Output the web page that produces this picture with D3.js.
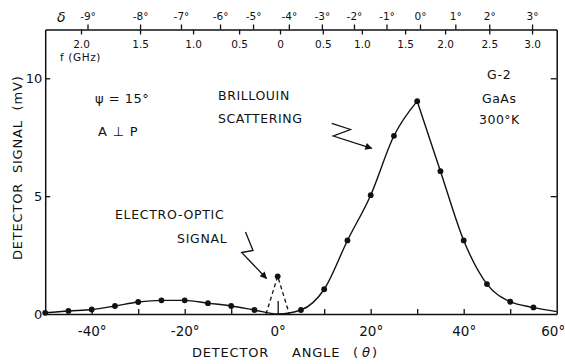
<!DOCTYPE html>
<html>
<head>
<meta charset="utf-8">
<script src="https://cdn.jsdelivr.net/npm/d3@7/dist/d3.min.js"></script>
<style>
  html, body { margin: 0; padding: 0; background: #fff; }
  svg { display: block; }
  text { font-family: "DejaVu Sans", sans-serif; fill: #111; }
</style>
</head>
<body>
<svg id="chart" width="565" height="364"></svg>
<script>
// Detector signal vs detector angle (GaAs, 300 K)
const angleDeg  = [-50, -45, -40, -35, -30, -25, -20, -15, -10, -5, 0, 5, 10, 15, 20, 25, 30, 35, 40, 45, 50, 55, 60];
const signalMV  = [0.05, 0.13, 0.19, 0.34, 0.51, 0.58, 0.58, 0.46, 0.34, 0.17, 0.0, 0.17, 1.05, 3.12, 5.04, 7.56, 9.03, 6.06, 3.12, 1.27, 0.52, 0.28, 0.10];
// angles on the smooth curve that carry no measured point
const unmeasuredDeg = [0, 60];
// the Brillouin peak is drawn as a cusp at this angle
const peakDeg = 30;

// Electro-optic signal (dashed spike)
const eoAngleDeg = [-2.5, 0, 2.5];
const eoSignalMV = [0, 1.6, 0];

// Axis ticks
const xTickDeg    = [-40, -30, -20, -10, 0, 10, 20, 30, 40, 50];
const xLabelDeg   = [-40, -20, 0, 20, 40, 60];
const yTickMV     = [0, 5, 10];
// top scales: phonon angle delta and frequency f, placed at detector angles
const deltaLabels = ["-9°", "-8°", "-7°", "-6°", "-5°", "-4°", "-3°", "-2°", "-1°", "0°", "1°", "2°", "3°"];
const deltaAtDeg  = [-40.9, -29.6, -20.8, -12.4, -5.3, 2.4, 9.5, 16.4, 23.4, 30.6, 38.2, 45.5, 54.7];
const freqLabels  = ["2.0", "1.5", "1.0", "0.5", "0", "0.5", "1.0", "1.5", "2.0", "2.5", "3.0"];
const freqAtDeg   = [-42.3, -29.6, -18.2, -8.3, 0.5, 9.7, 18.1, 27.4, 36.0, 45.5, 54.7];

const svg = d3.select("#chart");
const L = 45.2, R = 556.7, T = 29.5, B = 314;

const x = d3.scaleLinear().domain([-50, 60]).range([L, R]);
const y = d3.scaleLinear().domain([0, 12.07]).range([B, T]);

const ink = "#111";

function styleAxis(g, fontSize) {
  g.select(".domain").attr("stroke", ink).attr("stroke-width", 1.5);
  g.selectAll(".tick line").attr("stroke", ink).attr("stroke-width", 1.3);
  g.selectAll(".tick text").attr("fill", ink)
    .style("font-family", "'DejaVu Sans', sans-serif")
    .style("font-size", fontSize + "px");
}

// bottom axis: inward ticks every 10 degrees
svg.append("g").attr("transform", `translate(0,${B})`)
  .call(d3.axisBottom(x).tickValues(xTickDeg).tickSizeInner(-5).tickSizeOuter(0).tickFormat(""))
  .call(g => styleAxis(g, 13))
  .call(g => g.selectAll(".tick line").filter(d => d === 0).attr("y2", -13));

// bottom labels
svg.append("g").attr("transform", `translate(0,${B})`)
  .call(d3.axisBottom(x).tickValues(xLabelDeg).tickSize(0).tickPadding(12).tickFormat(d => d + "°"))
  .call(g => styleAxis(g, 13.5))
  .call(g => g.select(".domain").remove())
  // keep the last label inside the page
  .call(g => g.selectAll(".tick text").filter(d => d === 60).attr("text-anchor", "end").attr("x", 8));

// left axis
svg.append("g").attr("transform", `translate(${L},0)`)
  .call(d3.axisLeft(y).tickValues(yTickMV).tickSizeInner(-5).tickSizeOuter(0).tickPadding(3).tickFormat(d3.format("d")))
  .call(g => styleAxis(g, 13))
  .call(g => g.selectAll(".tick line").filter(d => d === 0).remove());

// right axis
svg.append("g").attr("transform", `translate(${R},0)`)
  .call(d3.axisRight(y).tickValues([5, 10]).tickSizeInner(-6).tickSizeOuter(0).tickFormat(""))
  .call(g => styleAxis(g, 13));

// top axis: delta ticks above
svg.append("g").attr("transform", `translate(0,${T})`)
  .call(d3.axisTop(x).tickValues(deltaAtDeg).tickSizeInner(5).tickSizeOuter(0).tickPadding(5)
        .tickFormat((d, i) => deltaLabels[i]))
  .call(g => styleAxis(g, 10.5));

// top axis: frequency ticks below
svg.append("g").attr("transform", `translate(0,${T})`)
  .call(d3.axisBottom(x).tickValues(freqAtDeg).tickSizeInner(5).tickSizeOuter(0).tickPadding(6)
        .tickFormat((d, i) => freqLabels[i]))
  .call(g => styleAxis(g, 10.5))
  .call(g => g.select(".domain").remove());

// smooth detector-signal curve, split at the peak so the top stays pointed
const line = d3.line().x(d => x(d[0])).y(d => y(d[1])).curve(d3.curveMonotoneX);
const curve = angleDeg.map((a, i) => [a, signalMV[i]]);
const rising = curve.filter(d => d[0] <= peakDeg);
const falling = curve.filter(d => d[0] >= peakDeg);
svg.append("g").selectAll("path").data([rising, falling]).join("path")
  .attr("d", line).attr("fill", "none").attr("stroke", ink).attr("stroke-width", 1.4)
  .attr("stroke-linejoin", "miter");

// measured points
svg.append("g").selectAll("circle")
  .data(curve.filter(d => !unmeasuredDeg.includes(d[0])))
  .join("circle")
  .attr("cx", d => x(d[0])).attr("cy", d => y(d[1])).attr("r", 2.9).attr("fill", ink);

// electro-optic spike
const eo = eoAngleDeg.map((a, i) => [a, eoSignalMV[i]]);
svg.append("path").datum(eo)
  .attr("d", d3.line().x(d => x(d[0])).y(d => y(d[1])))
  .attr("fill", "none").attr("stroke", ink).attr("stroke-width", 1.3).attr("stroke-dasharray", "4,3");
svg.append("circle").attr("cx", x(eo[1][0])).attr("cy", y(eo[1][1])).attr("r", 2.9).attr("fill", ink);

// arrowhead
svg.append("defs").append("marker")
  .attr("id", "head").attr("viewBox", "0 0 10 10").attr("refX", 9).attr("refY", 5)
  .attr("markerWidth", 9).attr("markerHeight", 7).attr("markerUnits", "userSpaceOnUse")
  .attr("orient", "auto")
  .append("path").attr("d", "M0,0 L10,5 L0,10 Z").attr("fill", ink);

// lightning-style pointers
const zig = d3.line();
svg.append("path")
  .attr("d", zig([[331.7, 123.3], [350.5, 129.5], [333.3, 136], [371.7, 148.3]]))
  .attr("fill", "none").attr("stroke", ink).attr("stroke-width", 1.3).attr("marker-end", "url(#head)");
svg.append("path")
  .attr("d", zig([[245.5, 232], [253, 250.5], [241.7, 252.5], [266.5, 278.5]]))
  .attr("fill", "none").attr("stroke", ink).attr("stroke-width", 1.3).attr("marker-end", "url(#head)");

// annotations
function label(txt, tx, ty, size, extra) {
  const t = svg.append("text").attr("x", tx).attr("y", ty)
    .style("font-size", size + "px").text(txt);
  if (extra) extra(t);
  return t;
}
const sp = v => t => t.style("letter-spacing", v + "px");

label("ψ = 15°", 95, 103, 13, sp(0.5));
label("A ⊥ P", 98, 136, 13, sp(0.8));
label("BRILLOUIN", 218, 100, 12.5, sp(0.6));
label("SCATTERING", 218, 123, 12.5, sp(0.6));
label("ELECTRO-OPTIC", 115, 219, 12.5, sp(0.7));
label("SIGNAL", 177, 243, 12.5, sp(0.7));
label("G-2", 487, 79, 12.5, sp(0.8));
label("GaAs", 482, 103, 12.5, sp(0.5));
label("300°K", 479, 124, 12.5, sp(0.5));

// top-scale captions
label("δ", 57, 22, 14, t => t.style("font-style", "italic"));
label("f (GHz)", 60, 61, 10.5, sp(0.6));

// axis titles
label("DETECTOR", 192, 357, 13, sp(0.8));
label("ANGLE", 292, 357, 13, sp(0.8));
label("(", 353, 357, 13);
label("θ", 362, 357, 13, t => t.style("font-style", "italic"));
label(")", 372, 357, 13);

svg.append("text")
  .attr("transform", "translate(22,260) rotate(-90)")
  .style("font-size", "13px").style("letter-spacing", "0.8px")
  .attr("xml:space", "preserve")
  .text("DETECTOR  SIGNAL  (mV)");
</script>
</body>
</html>
